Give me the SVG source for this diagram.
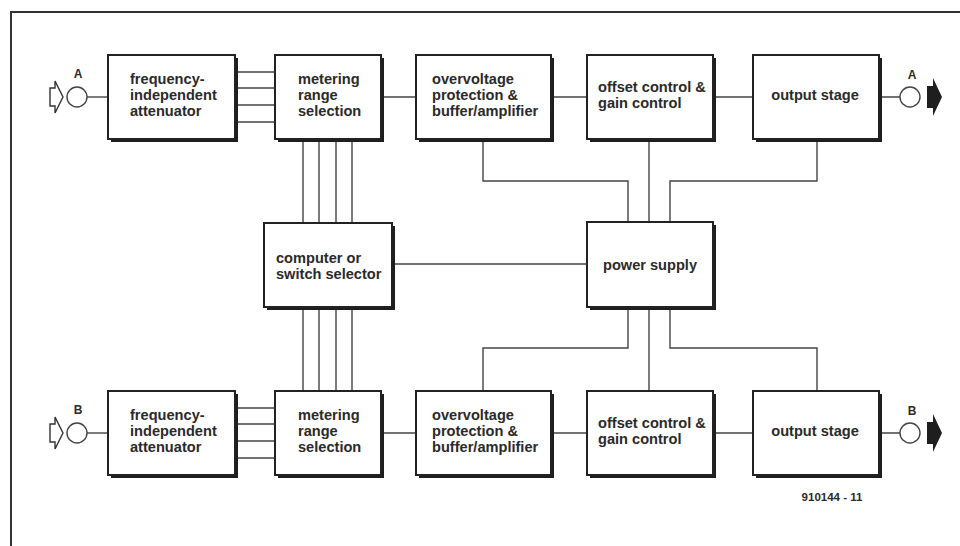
<svg xmlns="http://www.w3.org/2000/svg" width="960" height="546" viewBox="0 0 960 546">
<defs>
<style>
.frame{fill:none;stroke:#333;stroke-width:2}
.shadow{fill:#1e1e1e}
.box{fill:#fff;stroke:#222;stroke-width:2}
.ln{fill:none;stroke:#444;stroke-width:1.4}
.t{font-family:"Liberation Sans",Arial,sans-serif;font-weight:bold;font-size:14.6px;fill:#2a2a2a}
.tc{text-anchor:middle}
.lab{font-family:"Liberation Sans",Arial,sans-serif;font-weight:bold;font-size:12px;fill:#2a2a2a;text-anchor:middle}
.term{fill:#fff;stroke:#444;stroke-width:1.4}
.inarr{fill:#fff;stroke:#333;stroke-width:1.4;stroke-linejoin:miter}
.outarr{fill:#1e1e1e}
</style>
</defs>
<rect width="960" height="546" fill="#fff"/>
<path class="frame" d="M11,546 V12 H960"/>

<g id="connectors">
  <!-- channel A signal path -->
  <path class="ln" d="M87,97 H108"/>
  <path class="ln" d="M235,72 H275 M235,88 H275 M235,105 H275 M235,122 H275"/>
  <path class="ln" d="M381,97 H416 M551,97 H587 M713,97 H753 M879,97 H900"/>
  <!-- channel B signal path -->
  <path class="ln" d="M87,433 H108"/>
  <path class="ln" d="M235,408 H275 M235,424 H275 M235,441 H275 M235,458 H275"/>
  <path class="ln" d="M381,433 H416 M551,433 H587 M713,433 H753 M879,433 H900"/>
  <!-- bus between metering and selector -->
  <path class="ln" d="M303,139 V223 M319,139 V223 M336,139 V223 M352,139 V223"/>
  <path class="ln" d="M303,307 V391 M319,307 V391 M336,307 V391 M352,307 V391"/>
  <!-- selector to power supply -->
  <path class="ln" d="M392,264 H587"/>
  <!-- supply lines top -->
  <path class="ln" d="M483,139 V181 H628 V222"/>
  <path class="ln" d="M649,139 V222"/>
  <path class="ln" d="M817,139 V181 H670 V222"/>
  <!-- supply lines bottom -->
  <path class="ln" d="M628,307 V348 H483 V391"/>
  <path class="ln" d="M649,307 V391"/>
  <path class="ln" d="M670,307 V348 H817 V391"/>
</g>

<g id="in-A">
  <polygon class="inarr" points="50,88 55,88 55,81 63,97 55,113 55,106 50,106"/>
  <circle class="term" cx="77" cy="97" r="10"/>
  <text class="lab" x="78" y="78">A</text>
</g>
<g id="in-B">
  <polygon class="inarr" points="50,424 55,424 55,417 63,433 55,449 55,442 50,442"/>
  <circle class="term" cx="77" cy="433" r="10"/>
  <text class="lab" x="78" y="414">B</text>
</g>
<g id="out-A">
  <circle class="term" cx="910" cy="97" r="10"/>
  <polygon class="outarr" points="927,86 933,86 933,78 942,97 933,116 933,108 927,108"/>
  <text class="lab" x="912" y="79">A</text>
</g>
<g id="out-B">
  <circle class="term" cx="910" cy="433" r="10"/>
  <polygon class="outarr" points="927,422 933,422 933,414 942,433 933,452 933,444 927,444"/>
  <text class="lab" x="912" y="415">B</text>
</g>

<g id="atten-A">
  <rect class="shadow" x="111" y="58" width="127" height="84"/>
  <rect class="box" x="108" y="55" width="127" height="84"/>
  <text class="t" x="130" y="84">frequency-</text>
  <text class="t" x="130" y="100">independent</text>
  <text class="t" x="130" y="116">attenuator</text>
</g>
<g id="metering-A">
  <rect class="shadow" x="278" y="58" width="106" height="84"/>
  <rect class="box" x="275" y="55" width="106" height="84"/>
  <text class="t" x="298" y="84">metering</text>
  <text class="t" x="298" y="100">range</text>
  <text class="t" x="298" y="116">selection</text>
</g>
<g id="overvoltage-A">
  <rect class="shadow" x="419" y="58" width="135" height="84"/>
  <rect class="box" x="416" y="55" width="135" height="84"/>
  <text class="t" x="432" y="84">overvoltage</text>
  <text class="t" x="432" y="100">protection &amp;</text>
  <text class="t" x="432" y="116">buffer/amplifier</text>
</g>
<g id="offset-A">
  <rect class="shadow" x="590" y="58" width="126" height="84"/>
  <rect class="box" x="587" y="55" width="126" height="84"/>
  <text class="t" x="598" y="92">offset control &amp;</text>
  <text class="t" x="598" y="108">gain control</text>
</g>
<g id="output-A">
  <rect class="shadow" x="756" y="58" width="126" height="84"/>
  <rect class="box" x="753" y="55" width="126" height="84"/>
  <text class="t tc" x="815" y="100">output stage</text>
</g>

<g id="selector">
  <rect class="shadow" x="267" y="226" width="128" height="84"/>
  <rect class="box" x="264" y="223" width="128" height="84"/>
  <text class="t" x="276" y="263">computer or</text>
  <text class="t" x="276" y="279">switch selector</text>
</g>
<g id="power-supply">
  <rect class="shadow" x="590" y="225" width="126" height="85"/>
  <rect class="box" x="587" y="222" width="126" height="85"/>
  <text class="t tc" x="650" y="270">power supply</text>
</g>

<g id="atten-B">
  <rect class="shadow" x="111" y="394" width="127" height="84"/>
  <rect class="box" x="108" y="391" width="127" height="84"/>
  <text class="t" x="130" y="420">frequency-</text>
  <text class="t" x="130" y="436">independent</text>
  <text class="t" x="130" y="452">attenuator</text>
</g>
<g id="metering-B">
  <rect class="shadow" x="278" y="394" width="106" height="84"/>
  <rect class="box" x="275" y="391" width="106" height="84"/>
  <text class="t" x="298" y="420">metering</text>
  <text class="t" x="298" y="436">range</text>
  <text class="t" x="298" y="452">selection</text>
</g>
<g id="overvoltage-B">
  <rect class="shadow" x="419" y="394" width="135" height="84"/>
  <rect class="box" x="416" y="391" width="135" height="84"/>
  <text class="t" x="432" y="420">overvoltage</text>
  <text class="t" x="432" y="436">protection &amp;</text>
  <text class="t" x="432" y="452">buffer/amplifier</text>
</g>
<g id="offset-B">
  <rect class="shadow" x="590" y="394" width="126" height="84"/>
  <rect class="box" x="587" y="391" width="126" height="84"/>
  <text class="t" x="598" y="428">offset control &amp;</text>
  <text class="t" x="598" y="444">gain control</text>
</g>
<g id="output-B">
  <rect class="shadow" x="756" y="394" width="126" height="84"/>
  <rect class="box" x="753" y="391" width="126" height="84"/>
  <text class="t tc" x="815" y="436">output stage</text>
</g>

<text class="lab" style="font-size:11.5px" x="832" y="501">910144 - 11</text>
</svg>
